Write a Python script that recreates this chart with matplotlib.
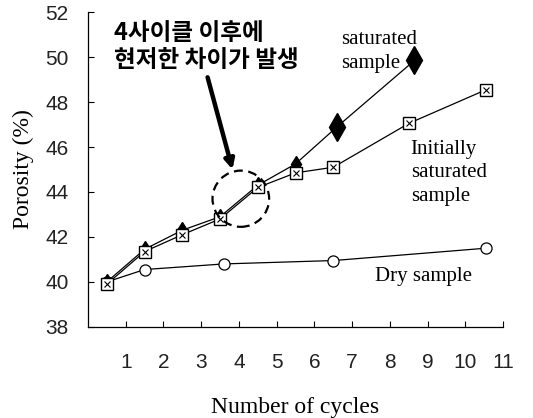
import matplotlib.pyplot as plt
from matplotlib.patches import Ellipse

# data
sat_x = [0.5, 1.5, 2.5, 3.5, 4.5, 5.5, 6.6, 8.65]
sat_y = [40.0, 41.45, 42.3, 42.9, 44.3, 45.25, 46.9, 49.85]
init_x = [0.5, 1.5, 2.5, 3.5, 4.5, 5.5, 6.5, 8.5, 10.55]
init_y = [39.9, 41.35, 42.1, 42.8, 44.2, 44.85, 45.1, 47.05, 48.55]
dry_x = [0.5, 1.5, 3.6, 6.5, 10.55]
dry_y = [40.0, 40.55, 40.8, 40.95, 41.5]
xticks = list(range(1, 12))
yticks = list(range(38, 53, 2))
note = "4사이클 이후에\n현저한 차이가 발생"

fig = plt.figure(figsize=(5.33, 4.18), dpi=100)
ax = fig.add_axes([0.165, 0.218, 0.779, 0.753])

ax.plot(dry_x, dry_y, color='black', lw=0.9, marker='o', ms=8,
        mfc='white', mec='black', mew=0.9, zorder=2)
ax.plot(sat_x, sat_y, color='black', lw=0.9, marker='d', ms=8,
        mfc='black', mec='black', markevery=slice(0, 6), zorder=3)
ax.plot(sat_x, sat_y, ls='none', marker='d', ms=14,
        mfc='black', mec='black', markevery=slice(6, None), zorder=3)
ax.plot(init_x, init_y, color='black', lw=0.9, marker='s', ms=8,
        mfc='white', mec='black', mew=1.0, zorder=4)
ax.plot(init_x, init_y, ls='none', marker='x', ms=5, mec='black', mew=0.8, zorder=5)

ax.add_patch(Ellipse((4.05, 43.7), 1.5, 2.5, fill=False, ls=(0, (4, 2.5)),
                     lw=1.6, ec='black', zorder=6))
ax.annotate('', xy=(3.83, 45.0), xytext=(3.17, 49.1),
            arrowprops=dict(arrowstyle='-|>', lw=3.2, color='black',
                            mutation_scale=14, shrinkA=0, shrinkB=0))

ax.text(0.69, 51.6, note, fontsize=17, fontweight='bold', va='top', ha='left',
        family=['Noto Sans CJK KR', 'DejaVu Sans'], linespacing=1.15)

serif = 'Liberation Serif'
ax.text(6.7, 50.25, "saturated\nsample", fontsize=15, family=serif, va='center',
        linespacing=1.3)
ax.text(8.55, 44.85, "Initially\nsaturated\nsample", fontsize=15, family=serif,
        va='center', linespacing=1.3)
ax.text(7.6, 40.25, "Dry sample", fontsize=15, family=serif, va='center')

ax.set_xlim(0, 11)
ax.set_ylim(38, 52)
ax.set_xticks(xticks)
ax.set_yticks(yticks)
ax.tick_params(direction='in', length=4, width=0.8, labelsize=15)
ax.tick_params(axis='x', pad=19)
ax.tick_params(axis='y', pad=14)
for lab in ax.get_xticklabels() + ax.get_yticklabels():
    lab.set_family('Liberation Sans')
    lab.set_color('#222222')
for s in ['top', 'right']:
    ax.spines[s].set_visible(False)
for s in ['left', 'bottom']:
    ax.spines[s].set_linewidth(0.9)

ax.set_xlabel("Number of cycles", fontsize=17, family=serif, labelpad=18)
ax.set_ylabel("Porosity (%)", fontsize=17, family=serif, labelpad=8)

fig.savefig('out.png', dpi=100)
